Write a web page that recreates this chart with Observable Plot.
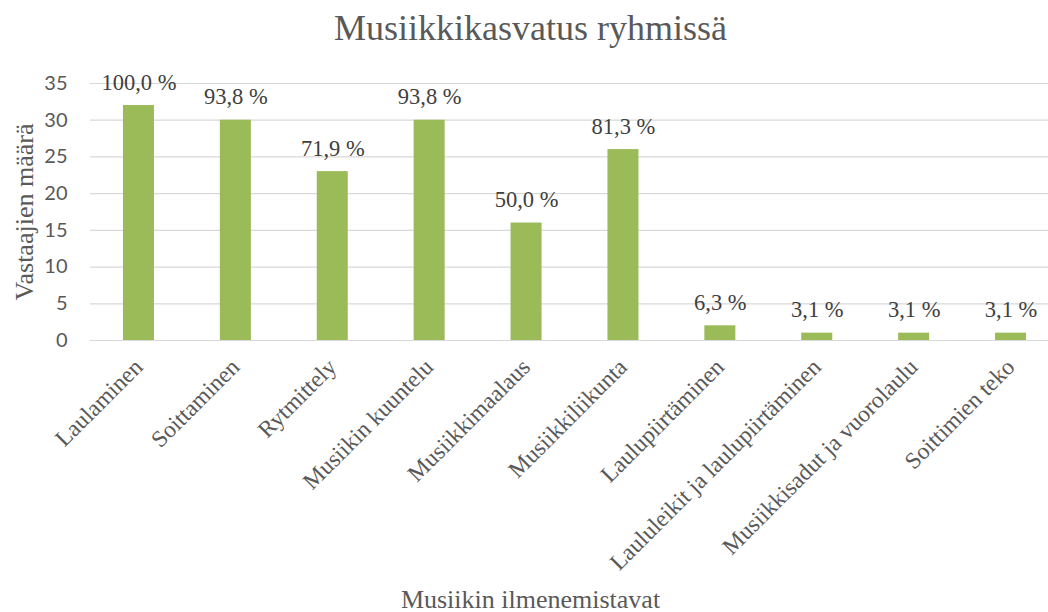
<!DOCTYPE html>
<html>
<head>
<meta charset="utf-8">
<script src="https://cdn.jsdelivr.net/npm/d3@7"></script>
<script src="https://cdn.jsdelivr.net/npm/@observablehq/plot@0.6"></script>
<style>
  html, body { margin: 0; padding: 0; background: #ffffff; overflow: hidden; }
  #chart svg { display: block; }
</style>
</head>
<body>
<div id="chart"></div>
<script>
const chartTitle = "Musiikkikasvatus ryhmissä";
const xTitle = "Musiikin ilmenemistavat";
const yTitle = "Vastaajien määrä";
const categories = [
  "Laulaminen",
  "Soittaminen",
  "Rytmittely",
  "Musiikin kuuntelu",
  "Musiikkimaalaus",
  "Musiikkiliikunta",
  "Laulupiirtäminen",
  "Laululeikit ja laulupiirtäminen",
  "Musiikkisadut ja vuorolaulu",
  "Soittimien teko"
];
const counts = [32, 30, 23, 30, 16, 26, 2, 1, 1, 1];
const percentLabels = ["100,0 %", "93,8 %", "71,9 %", "93,8 %", "50,0 %", "81,3 %", "6,3 %", "3,1 %", "3,1 %", "3,1 %"];
const yTicks = [0, 5, 10, 15, 20, 25, 30, 35];

const data = categories.map((c, i) => ({category: c, count: counts[i], label: percentLabels[i]}));

const serif = "Liberation Serif";
const sans = "Lato";

const chart = Plot.plot({
  width: 1048,
  height: 612,
  marginLeft: 90,
  marginRight: 0,
  marginTop: 83,
  marginBottom: 272,
  style: {background: "#ffffff", overflow: "visible"},
  x: {domain: categories, range: [90, 1059], paddingInner: 0.68, paddingOuter: 0.34, round: false, axis: null},
  y: {domain: [0, 35], axis: null},
  marks: [
    Plot.ruleY(yTicks, {stroke: "#d9d9d9", strokeWidth: 1.2}),
    Plot.barY(data, {x: "category", y: "count", fill: "#9bbb59"}),
    Plot.axisY({ticks: yTicks, tickSize: 0, tickPadding: 23, fontSize: 20, fontFamily: sans, color: "#595959", label: null}),
    Plot.text(data, {x: "category", y: "count", text: "label", lineAnchor: "bottom", dy: -16, fontSize: 22.5, fontFamily: serif, fill: "#404040"}),
    Plot.text(data, {x: "category", frameAnchor: "bottom", text: "category", rotate: -45, textAnchor: "end", lineAnchor: "bottom", dx: 5, dy: 28, fontSize: 23.5, fontFamily: serif, fill: "#595959"}),
    Plot.text([chartTitle], {frameAnchor: "top-left", text: d => d, dx: 440, dy: -44, textAnchor: "middle", lineAnchor: "bottom", fontSize: 36, fontFamily: serif, fill: "#595959"}),
    Plot.text([xTitle], {frameAnchor: "bottom-left", text: d => d, dx: 440, dy: 267, textAnchor: "middle", lineAnchor: "bottom", fontSize: 26, fontFamily: serif, fill: "#595959"}),
    Plot.text([yTitle], {frameAnchor: "left", text: d => d, dx: -58, rotate: -90, textAnchor: "middle", lineAnchor: "bottom", fontSize: 26, fontFamily: serif, fill: "#595959"})
  ]
});
document.getElementById("chart").append(chart);
</script>
</body>
</html>
